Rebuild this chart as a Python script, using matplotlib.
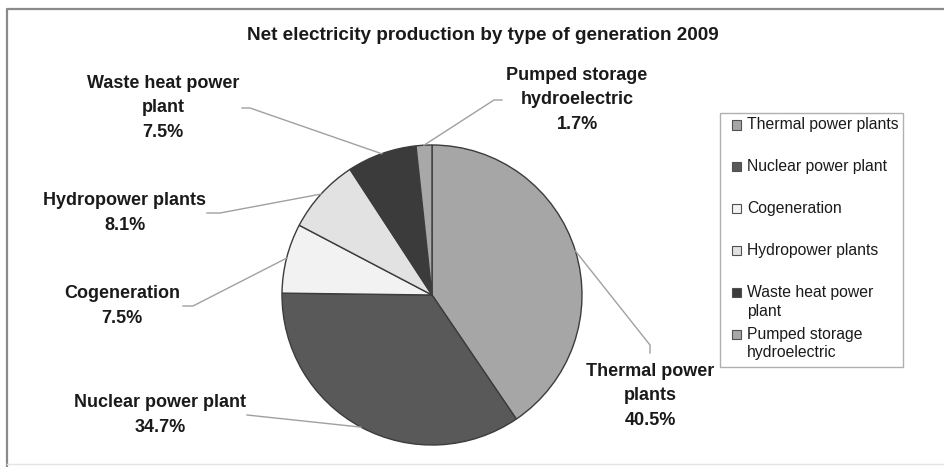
import numpy as np
import matplotlib
matplotlib.use("Agg")
from matplotlib import pyplot as plt
from matplotlib.patches import Rectangle
from matplotlib.lines import Line2D

plt.rcParams['font.family'] = ['Liberation Sans', 'DejaVu Sans']

# net electricity production 2009, share by type (%)
types = ["Thermal power plants", "Nuclear power plant", "Cogeneration",
         "Hydropower plants", "Waste heat power plant", "Pumped storage hydroelectric"]
shares = [40.5, 34.7, 7.5, 8.1, 7.5, 1.7]
pie_labels = ["Thermal power\nplants", "Nuclear power plant", "Cogeneration",
              "Hydropower plants", "Waste heat power\nplant", "Pumped storage\nhydroelectric"]
legend_labels = ["Thermal power plants", "Nuclear power plant", "Cogeneration",
                 "Hydropower plants", "Waste heat power\nplant", "Pumped storage\nhydroelectric"]
colors = ["#a6a6a6", "#595959", "#f2f2f2", "#e2e2e2", "#3b3b3b", "#a8a8a8"]

W, H = 945, 467
fig = plt.figure(figsize=(W / 100, H / 100), dpi=100)

def fx(x):
    return x / W

def fy(y):
    return 1 - y / H

# chart frame: top and left edges only, bottom edge faint
fig.lines.append(Line2D([fx(7), fx(7), 1], [fy(467), fy(9), fy(9)], transform=fig.transFigure,
                        color="#8a8a8a", linewidth=1.6))
fig.lines.append(Line2D([fx(7), 1], [fy(464), fy(464)], transform=fig.transFigure,
                        color="#e4e4e4", linewidth=1.0))

fig.text(fx(483), fy(35), "Net electricity production by type of generation 2009",
         ha="center", va="center", fontsize=13.6, fontweight="bold", color="#1a1a1a")

# pie centre (432, 295), radius 150 px
cx, cy, r = 432, 295, 150
ax = fig.add_axes([fx(cx - r), fy(cy + r), 2 * r / W, 2 * r / H])
wedges, _ = ax.pie(shares, colors=colors, startangle=90, counterclock=False,
                   wedgeprops=dict(edgecolor="#3c3c3c", linewidth=1.0))
ax.set_xlim(-1, 1)
ax.set_ylim(-1, 1)
ax.set_aspect("auto")
ax.axis("off")

def to_data(px, py):
    return (px - cx) / r, (cy - py) / r

# label centre, leader start, stub end (pixels from top-left)
label_pos = [(650, 396), (160, 415), (122, 306), (125, 213), (163, 108), (577, 100)]
leader_start = [(650, 353), (247, 415), (183, 306), (207, 213), (242, 108), (502, 100)]
leader_stub = [(650, 345), (247, 415), (193, 306), (220, 213), (250, 108), (494, 100)]

cum = np.cumsum([0] + shares)
for i, w in enumerate(wedges):
    mid = 90 - 360 * (cum[i] + shares[i] / 2) / 100
    ex, ey = np.cos(np.radians(mid)), np.sin(np.radians(mid))
    sx, sy = to_data(*leader_start[i])
    tx, ty = to_data(*leader_stub[i])
    ax.plot([sx, tx, ex], [sy, ty, ey], color="#a0a0a0", linewidth=1.0, clip_on=False)
    lx, ly = to_data(*label_pos[i])
    ax.text(lx, ly, f"{pie_labels[i]}\n{shares[i]:.1f}%", ha="center", va="center",
            fontsize=13, fontweight="bold", color="#1a1a1a", linespacing=1.55,
            clip_on=False)

# legend box
fig.patches.append(Rectangle((fx(720), fy(367)), (903 - 720) / W, (367 - 113) / H,
                             transform=fig.transFigure, fill=False,
                             edgecolor="#b0b0b0", linewidth=1.0))
for i, lab in enumerate(legend_labels):
    yy = 125 + i * 41.8
    fig.patches.append(Rectangle((fx(732), fy(yy + 4.5)), 9 / W, 9 / H,
                                 transform=fig.transFigure, facecolor=colors[i],
                                 edgecolor="#505050", linewidth=0.8))
    for j, line in enumerate(lab.split("\n")):
        fig.text(fx(747), fy(yy + j * 19), line, ha="left", va="center",
                 fontsize=11.3, color="#1a1a1a")

fig.savefig("out.png", dpi=100)
